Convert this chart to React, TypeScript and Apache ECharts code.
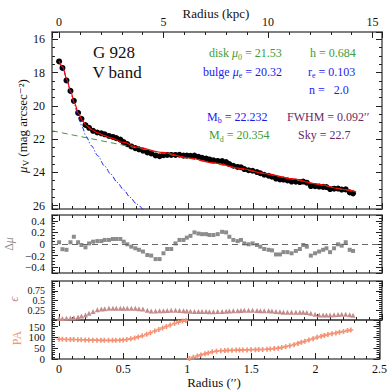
import React, { useEffect, useRef } from 'react';
import * as echarts from 'echarts';

// ---------- data ----------
const RADIUS = [0, 0.026, 0.057, 0.088, 0.114, 0.147, 0.173, 0.204, 0.232, 0.263, 0.296, 0.327, 0.353, 0.386, 0.417, 0.443, 0.474, 0.5,
  0.528, 0.559, 0.59, 0.618, 0.649, 0.683, 0.713, 0.747, 0.778, 0.808, 0.837, 0.868, 0.901, 0.932, 0.963, 0.989, 1.017,
  1.048, 1.079, 1.107, 1.138, 1.164, 1.195, 1.228, 1.262, 1.293, 1.318, 1.349, 1.382, 1.408, 1.434, 1.467, 1.498,
  1.532, 1.558, 1.588, 1.622, 1.648, 1.679, 1.71, 1.737, 1.768, 1.8, 1.833, 1.864, 1.89, 1.918, 1.949, 1.982, 2.013,
  2.044, 2.07, 2.098, 2.129, 2.16, 2.188, 2.219, 2.25, 2.276];

const MU_V = [17.33, 17.72, 18.47, 19.1, 19.7, 20.42, 20.78, 21.15, 21.32, 21.5, 21.6, 21.65, 21.71, 21.81, 21.87, 21.94, 22.03, 22.18,
  22.3, 22.44, 22.54, 22.61, 22.69, 22.8, 22.86, 22.98, 23.03, 22.97, 22.95, 22.95, 22.95, 22.94, 22.99, 22.99, 23.0,
  22.99, 23.06, 23.12, 23.17, 23.22, 23.27, 23.31, 23.32, 23.38, 23.5, 23.6, 23.67, 23.69, 23.8, 23.87, 23.9,
  23.98, 24.05, 24.14, 24.2, 24.26, 24.37, 24.42, 24.43, 24.48, 24.55, 24.56, 24.58, 24.55, 24.62, 24.82, 24.83, 24.85,
  24.87, 24.88, 25.0, 24.98, 24.97, 25.03, 25.02, 25.2, 25.26];

const RESID = [0.03, -0.09, -0.1, 0.03, 0.125, 0.03, -0.017, -0.057, 0.01, 0.04, 0.05, 0.05, 0.07, 0.07, 0.086, 0.086, 0.086, 0.04,
  -0.005, -0.046, -0.074, -0.1, -0.13, -0.19, -0.2, -0.26, -0.26, -0.16, -0.086, -0.086, 0.01, 0.07, 0.07, 0.11, 0.14,
  0.2, 0.18, 0.17, 0.17, 0.155, 0.155, 0.17, 0.21, 0.2, 0.125, 0.07, 0.05, 0.07, 0.01, -0.005, 0.01,
  -0.017, -0.046, -0.086, -0.1, -0.11, -0.18, -0.18, -0.14, -0.14, -0.16, -0.12, -0.086, -0.017, -0.046, -0.2, -0.16, -0.13,
  -0.1, -0.074, -0.14, -0.074, -0.005, -0.029, 0.03, -0.1, -0.12];

const ELLIP = [0.04, 0.04, 0.045, 0.05, 0.06, 0.08, 0.1, 0.13, 0.17, 0.22, 0.26, 0.28, 0.29, 0.3, 0.3, 0.3, 0.3, 0.3,
  0.3, 0.3, 0.3, 0.29, 0.28, 0.25, 0.23, 0.23, 0.235, 0.24, 0.245, 0.25, 0.25, 0.245, 0.235, 0.23, 0.225,
  0.22, 0.22, 0.215, 0.215, 0.21, 0.21, 0.215, 0.22, 0.225, 0.23, 0.235, 0.24, 0.245, 0.25, 0.25, 0.25,
  0.245, 0.24, 0.24, 0.235, 0.23, 0.22, 0.21, 0.2, 0.2, 0.2, 0.2, 0.2, 0.2, 0.19, 0.17, 0.15, 0.13,
  0.13, 0.13, 0.13, 0.135, 0.14, 0.15, 0.15, 0.135, 0.12];

const PA = [91, 91, 90, 90, 90, 89, 89, 88, 88, 87, 87, 86, 86, 86, 86, 86, 87, 88,
  90, 93, 97, 102, 107, 114, 121, 129, 136, 143, 150, 157, 164, 170, 175, 178, 2,
  8, 14, 19, 24, 28, 33, 36, 38, 39, 40, 40, 41, 41, 42, 42, 43,
  43, 44, 44, 45, 46, 48, 50, 53, 57, 61, 66, 72, 77, 82, 88, 94, 100,
  105, 109, 113, 117, 120, 124, 127, 131, 134];

const FIT_TOTAL = [[0, 17.3], [0.03, 17.68], [0.06, 18.42], [0.09, 19.15], [0.12, 19.85], [0.15, 20.45], [0.18, 20.88],
  [0.21, 21.18], [0.25, 21.42], [0.3, 21.62], [0.35, 21.79], [0.4, 21.93], [0.5, 22.2], [0.6, 22.48], [0.8, 22.8],
  [1.0, 23.12], [1.2, 23.43], [1.4, 23.75], [1.6, 24.07], [1.8, 24.38], [2.0, 24.7], [2.2, 25.02], [2.3, 25.18]];

const FIT_BULGE = [[0, 17.35], [0.03, 17.75], [0.06, 18.45], [0.09, 19.2], [0.12, 19.95], [0.15, 20.7], [0.18, 21.3],
  [0.21, 21.85], [0.25, 22.4], [0.3, 23.0], [0.35, 23.6], [0.4, 24.1], [0.45, 24.6], [0.5, 25.05], [0.55, 25.5],
  [0.6, 25.9], [0.67, 26.45]];

const FIT_DISK = [[-0.055, 21.5], [2.3, 25.18]];

const KPC_TICKS_LABELS = ['0', '5', '10', '15'];

// ---------- layout / style ----------
const FONT = '"Liberation Serif", "DejaVu Serif", serif';
const R_MIN = -0.055;
const R_MAX = 2.5;
const KPC_PER_ARCSEC = 6.18;
const GREEN = '#3c9c3c';
const BLUE = '#1a1af0';
const PURPLE = '#662a66';
const GRAY = '#8c8c8c';
const ROSY = '#c48c8c';
const SALMON = '#f39274';

const tickStyle = { color: '#222', width: 1 };
function frameAxis(extra: any) {
  return {
    type: 'value',
    axisLine: { show: true, onZero: false, lineStyle: { color: '#555', width: 1.5 } },
    axisTick: { show: true, inside: true, length: 6, lineStyle: tickStyle },
    minorTick: { show: true, splitNumber: 5, length: 3, lineStyle: tickStyle },
    splitLine: { show: false },
    minorSplitLine: { show: false },
    axisLabel: { show: false },
    ...extra,
  };
}
const labelBase = { show: true, color: '#111', fontFamily: FONT, fontSize: 12 };

function rAxis(grid: number, position: string, labels = false) {
  return frameAxis({
    gridIndex: grid, position, min: R_MIN, max: R_MAX, minInterval: 0.5, maxInterval: 0.5,
    axisLabel: labels
      ? { ...labelBase, margin: 4, formatter: (v: number) => (v < -0.001 ? '' : String(v)) }
      : { show: false },
  });
}

function yAx(grid: number, position: string, min: number, max: number, step: number, minor: number,
  fmt: ((v: number) => string) | null, extra: any = {}, labelExtra: any = {}) {
  return frameAxis({
    gridIndex: grid, position, min, max, minInterval: step, maxInterval: step,
    minorTick: { show: true, splitNumber: minor, length: 3, lineStyle: tickStyle },
    axisLabel: fmt ? { ...labelBase, margin: 7, formatter: fmt, ...labelExtra } : { show: false },
    ...extra,
  });
}

const near = (v: number, step: number) => Math.abs(v / step - Math.round(v / step)) < 1e-6;
const muFmt = (v: number) => (near(v, 2) ? String(Math.round(v)) : '');
const resFmt = (v: number) => {
  if (Math.abs(v) > 0.45 || !near(v, 0.2)) return '';
  if (Math.abs(v) < 1e-9) return '0';
  const s = String(+Math.abs(v).toFixed(2));
  return v < 0 ? '\u2212' + s : s;
};
const epsFmt = (v: number) => (v > 0.01 && v < 0.99 ? String(+v.toFixed(2)) : '');
const paFmt = (v: number) => (v <= 150.5 && near(v, 50) ? String(Math.round(v)) : '');

function rich(color: string, size = 12) {
  return {
    n: { fontFamily: FONT, fontSize: size, fill: color, lineHeight: 16 },
    i: { fontFamily: FONT, fontSize: size, fontStyle: 'italic', fill: color, lineHeight: 16 },
    s: { fontFamily: FONT, fontSize: Math.round(size * 0.68), fill: color, lineHeight: 8, verticalAlign: 'bottom' },
  };
}
function txt(x: number, y: number, text: string, color: string, size = 12, align = 'left', rotation = 0) {
  return {
    type: 'text', x, y, rotation, silent: true,
    style: {
      text, rich: rich(color, size), fill: color, fontFamily: FONT, fontSize: size,
      align, verticalAlign: 'middle', textAlign: align, textVerticalAlign: 'middle',
    },
  };
}

export default function App() {
  const ref = useRef<HTMLDivElement>(null);
  useEffect(() => {
    if (!ref.current) return;
    const chart = echarts.init(ref.current, null, { renderer: 'svg' });
    const pts = (vals: number[]) => RADIUS.map((r, i) => [r, vals[i]]);

    const kpcMin = R_MIN * KPC_PER_ARCSEC;
    const kpcMax = R_MAX * KPC_PER_ARCSEC;
    const smallLab = { fontSize: 11, lineHeight: 9 };
    const tinyLab = { fontSize: 10, lineHeight: 8 };

    const option: any = {
      animation: false,
      backgroundColor: '#fff',
      grid: [
        { left: 52, top: 32, width: 330, height: 177 },
        { left: 52, top: 215, width: 330, height: 58 },
        { left: 52, top: 281, width: 330, height: 39 },
        { left: 52, top: 320, width: 330, height: 39 },
      ],
      xAxis: [
        rAxis(0, 'bottom'),
        frameAxis({
          gridIndex: 0, position: 'top', min: kpcMin, max: kpcMax, minInterval: 5, maxInterval: 5,
          axisLabel: {
            ...labelBase, margin: 4,
            formatter: (v: number) => (near(v, 5) && v >= 0 ? KPC_TICKS_LABELS[Math.round(v / 5)] || '' : ''),
          },
        }),
        rAxis(1, 'bottom'),
        rAxis(1, 'top'),
        rAxis(2, 'bottom'),
        rAxis(2, 'top'),
        rAxis(3, 'bottom', true),
        rAxis(3, 'top'),
      ],
      yAxis: [
        yAx(0, 'left', 15.56, 26.2, 2, 4, muFmt, { inverse: true }),
        yAx(0, 'right', 15.56, 26.2, 2, 4, null, { inverse: true }),
        yAx(1, 'left', -0.5, 0.5, 0.2, 4, resFmt, {}, smallLab),
        yAx(1, 'right', -0.5, 0.5, 0.2, 4, null),
        yAx(2, 'left', 0, 1, 0.25, 5, epsFmt, {}, tinyLab),
        yAx(2, 'right', 0, 1, 0.25, 5, null),
        yAx(3, 'left', 0, 180, 50, 5, paFmt, {}, smallLab),
        yAx(3, 'right', 0, 180, 50, 5, null),
      ],
      series: [
        {
          type: 'scatter', xAxisIndex: 0, yAxisIndex: 0, data: pts(MU_V),
          symbol: 'circle', symbolSize: 6, itemStyle: { color: '#000', opacity: 1 }, silent: true,
        },
        {
          type: 'line', xAxisIndex: 0, yAxisIndex: 0, data: FIT_DISK, showSymbol: false, symbol: 'none',
          lineStyle: { color: GREEN, width: 1, type: [6, 4] }, silent: true,
        },
        {
          type: 'line', xAxisIndex: 0, yAxisIndex: 0, data: FIT_BULGE, showSymbol: false, symbol: 'none',
          smooth: 0.3, smoothMonotone: 'x',
          lineStyle: { color: BLUE, width: 1, type: [5, 2, 1, 2] }, silent: true,
        },
        {
          type: 'line', xAxisIndex: 0, yAxisIndex: 0, data: FIT_TOTAL, showSymbol: false, symbol: 'none',
          smooth: 0.3, smoothMonotone: 'x',
          lineStyle: { color: '#ff0000', width: 1.2 }, silent: true,
        },
        {
          type: 'scatter', xAxisIndex: 2, yAxisIndex: 2, data: pts(RESID),
          symbol: 'rect', symbolSize: 4, itemStyle: { color: GRAY, opacity: 1 }, silent: true,
          markLine: {
            silent: true, symbol: 'none', label: { show: false },
            lineStyle: { color: '#666', width: 1, type: [6, 4] },
            data: [{ yAxis: 0 }],
          },
        },
        {
          type: 'scatter', xAxisIndex: 4, yAxisIndex: 4, data: pts(ELLIP),
          symbol: 'triangle', symbolSize: 5, itemStyle: { color: ROSY, opacity: 1 }, silent: true,
        },
        {
          type: 'scatter', xAxisIndex: 6, yAxisIndex: 6, data: pts(PA),
          symbol: 'path://M2,0H4V2H6V4H4V6H2V4H0V2H2Z', symbolSize: 5, itemStyle: { color: SALMON, opacity: 1 }, silent: true,
        },
      ],
      graphic: [
        txt(216, 13, '{n|Radius (kpc)}', '#111', 13, 'center'),
        txt(214, 382, '{n|Radius (′′)}', '#111', 13, 'center'),
        txt(114, 52, '{n|G 928}', '#111', 17, 'center'),
        txt(117, 72, '{n|V band}', '#111', 17, 'center'),
        txt(209, 53, '{n|disk }{i|μ}{s|0}{n| = 21.53}', GREEN),
        txt(310, 53, '{n|h = 0.684}', GREEN),
        txt(203, 71.5, '{n|bulge }{i|μ}{s|e}{n| = 20.32}', BLUE),
        txt(308, 71.5, '{n|r}{s|e}{n| = 0.103}', BLUE),
        txt(309, 89.5, '{n|n =   2.0}', BLUE),
        txt(207, 116.5, '{n|M}{s|b}{n| = 22.232}', BLUE),
        txt(287, 116.5, '{n|FWHM = 0.092′′}', PURPLE),
        txt(209, 135, '{n|M}{s|d}{n| = 20.354}', GREEN),
        txt(298, 135, '{n|Sky = 22.7}', PURPLE),
        txt(22, 126, '{i|μ}{s|V}{n| (mag arcsec⁻²)}', '#111', 13, 'center', Math.PI / 2),
        txt(9, 244, '{n|Δ}{i|μ}', GRAY, 12, 'center', Math.PI / 2),
        txt(13, 299, '{i|ϵ}', ROSY, 13, 'center', Math.PI / 2),
        txt(17, 338, '{n|PA}', SALMON, 12, 'center', Math.PI / 2),
      ],
    };
    chart.setOption(option);
    return () => chart.dispose();
  }, []);
  return (
    <div
      ref={ref}
      style={{ position: 'fixed', left: 0, top: 0, width: 390, height: 390, background: '#fff' }}
    />
  );
}
